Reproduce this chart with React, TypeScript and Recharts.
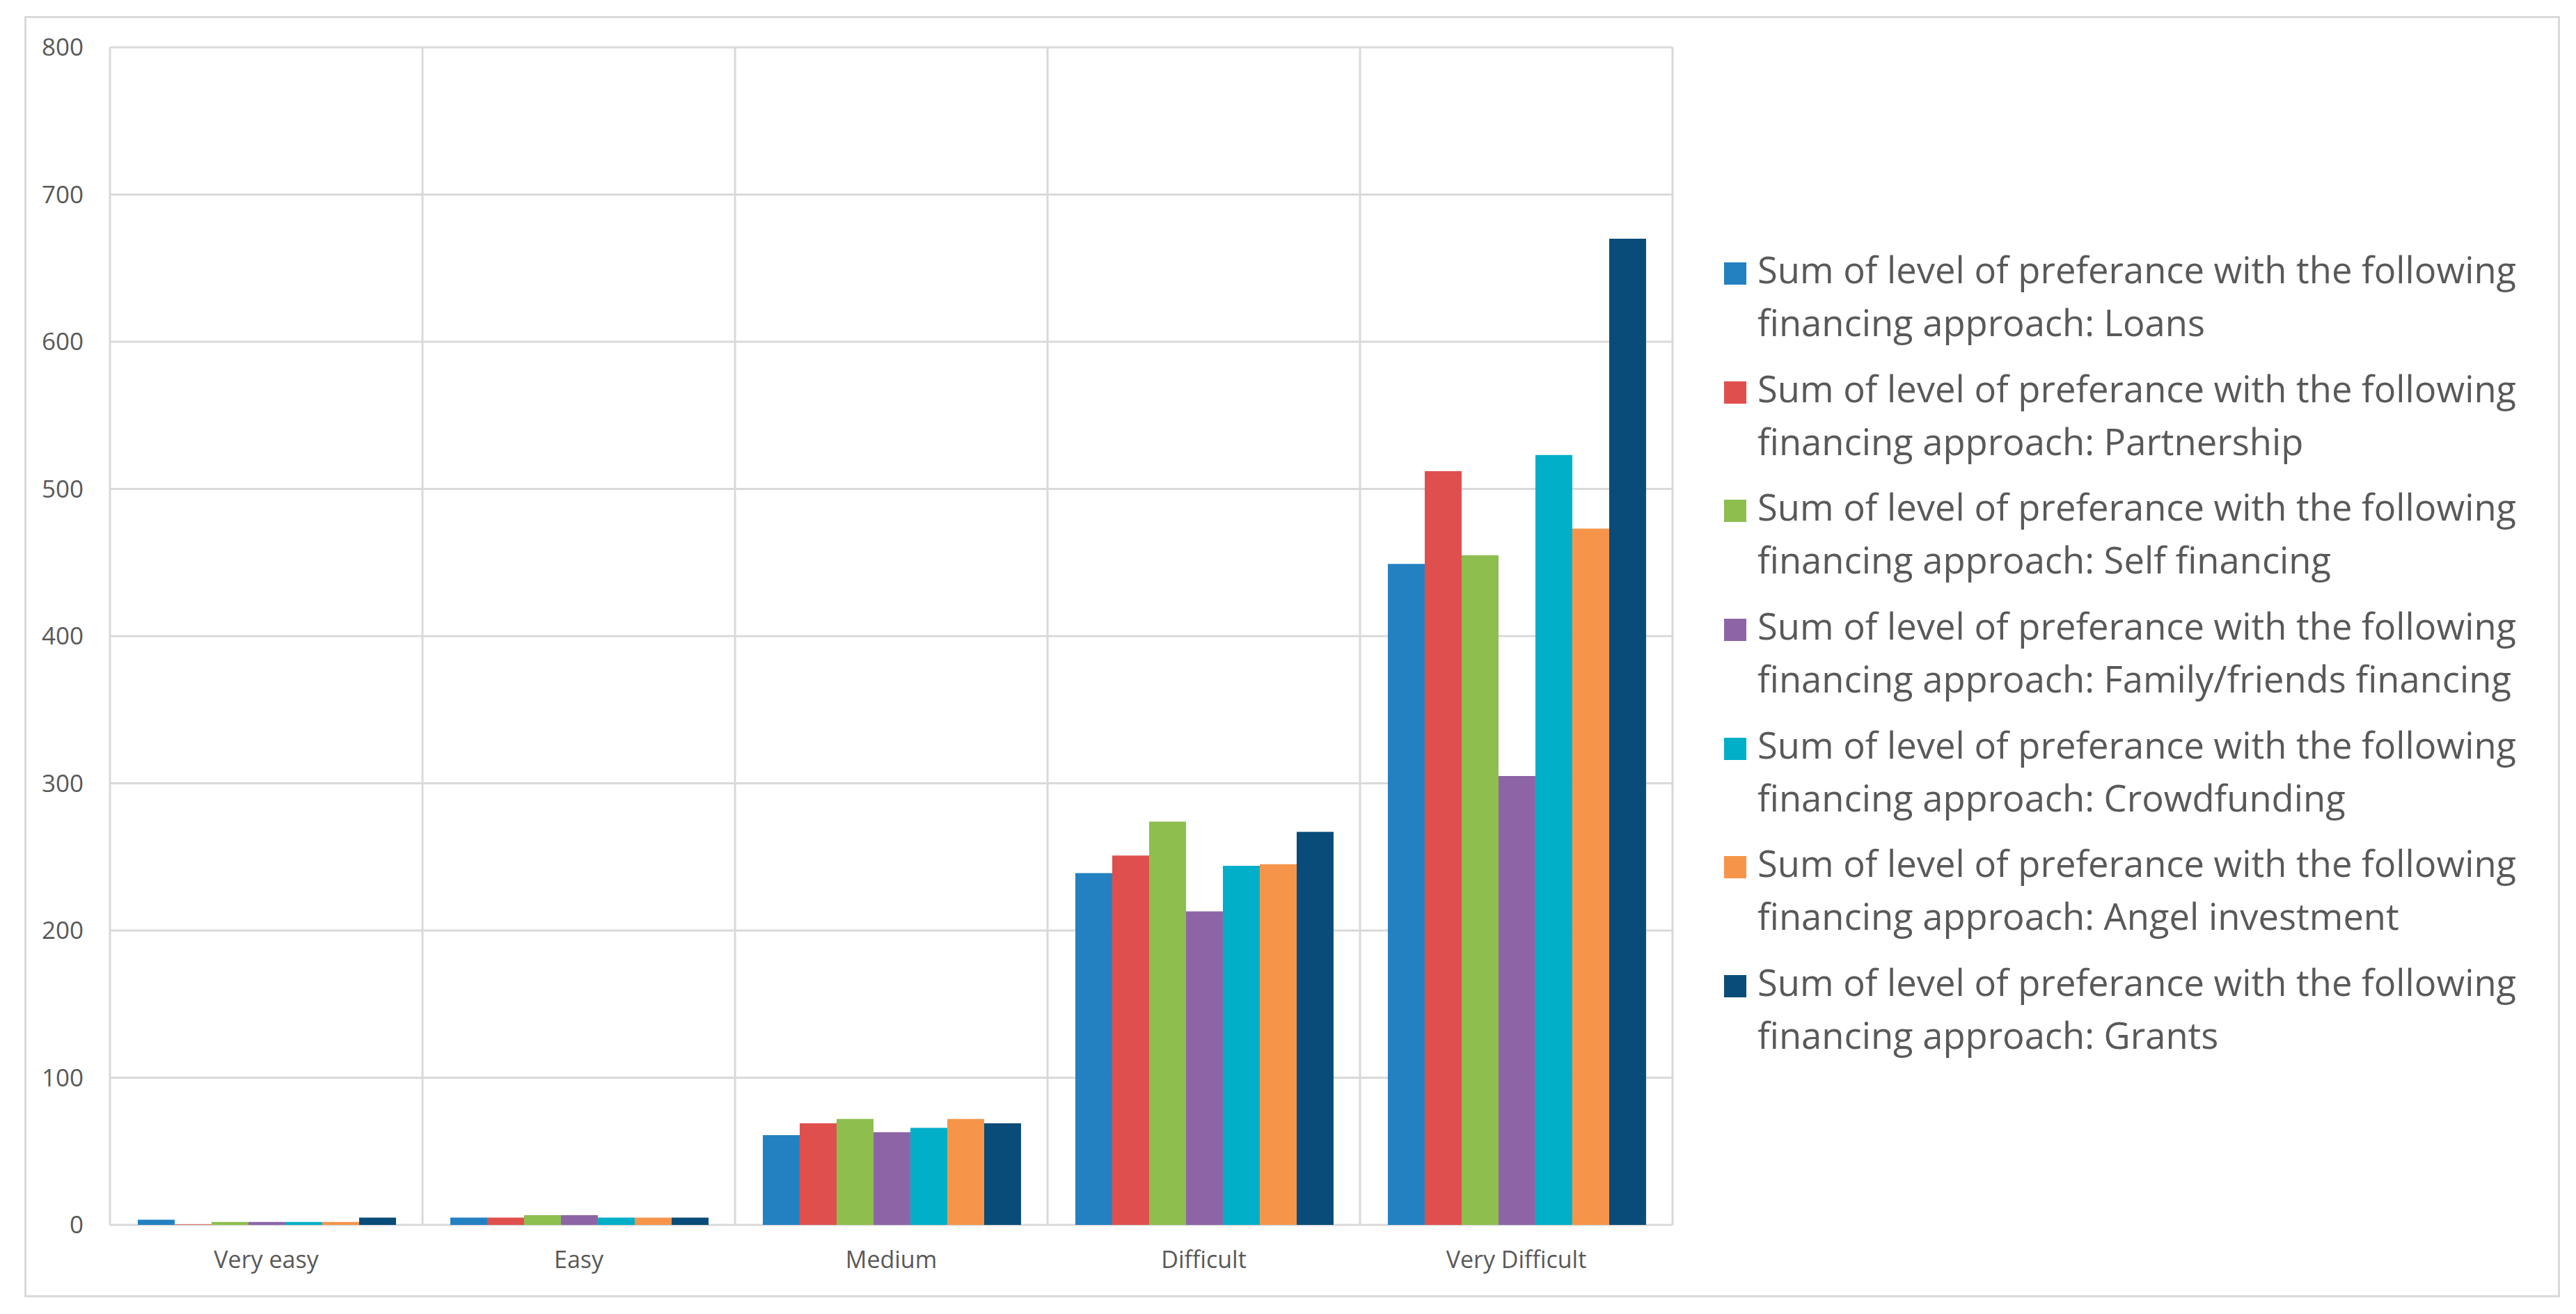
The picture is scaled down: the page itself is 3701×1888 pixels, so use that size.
import React from 'react';
import { BarChart, Bar, XAxis, YAxis, CartesianGrid, Legend } from 'recharts';

const categories = ['Very easy', 'Easy', 'Medium', 'Difficult', 'Very Difficult'];
const loans = [3.5, 5, 61, 239, 449];
const partnership = [0.3, 5, 69, 251, 512];
const selfFinancing = [2, 6.6, 72, 274, 455];
const familyFriends = [2, 6.6, 63, 213, 305];
const crowdfunding = [2, 5, 66, 244, 523];
const angelInvestment = [2, 5, 72, 245, 473];
const grants = [5, 5, 69, 267, 670];
const yTicks = [0, 100, 200, 300, 400, 500, 600, 700, 800];

const legendPrefix = 'Sum of level of preferance with the following';
const seriesNames = [
  'financing approach: Loans',
  'financing approach: Partnership',
  'financing approach: Self financing',
  'financing approach: Family/friends financing',
  'financing approach: Crowdfunding',
  'financing approach: Angel investment',
  'financing approach: Grants',
];
const seriesKeys = ['loans', 'partnership', 'selfFinancing', 'familyFriends', 'crowdfunding', 'angelInvestment', 'grants'];
const seriesValues = [loans, partnership, selfFinancing, familyFriends, crowdfunding, angelInvestment, grants];
const seriesColors = ['#2381C1', '#DF4F4E', '#8DBE4E', '#8D65A7', '#02AFC8', '#F6954A', '#0A4C79'];

const data = categories.map((c, i) => {
  const row: Record<string, any> = { category: c };
  seriesKeys.forEach((k, s) => {
    row[k] = seriesValues[s][i];
  });
  return row;
});

const FONT = '"Open Sans", "Noto Sans", sans-serif';
const GRID = '#d9d9d9';
const TEXT = '#595959';

// vertical grid lines at category boundaries, computed from the plot area
const boundaryLines = (props: any) => {
  const off = props.offset;
  const n = categories.length;
  const xs: number[] = [];
  for (let i = 0; i <= n; i++) xs.push(off.left + (off.width * i) / n);
  return xs;
};

function LegendContent() {
  return (
    <div style={{ fontFamily: FONT, fontSize: 52.5, lineHeight: '76px', color: TEXT, display: 'flex', flexDirection: 'column', gap: 18.7 }}>
      {seriesKeys.map((k, i) => (
        <div key={k} style={{ display: 'flex', alignItems: 'flex-start' }}>
          <div style={{ width: 32, height: 32, background: seriesColors[i], marginTop: 28, marginRight: 16, flex: 'none' }} />
          <div style={{ whiteSpace: 'nowrap' }}>
            {legendPrefix + ' '}
            <br />
            {seriesNames[i]}
          </div>
        </div>
      ))}
    </div>
  );
}

export default function App() {
  return (
    <div style={{ position: 'absolute', left: 0, top: 0, width: 3701, height: 1888, background: '#fff' }}>
      <div
        style={{
          position: 'absolute',
          left: 35,
          top: 23,
          width: 3643,
          height: 1841,
          border: `3px solid ${GRID}`,
          boxSizing: 'border-box',
        }}
      />
      <div style={{ position: 'absolute', left: 0, top: 0 }}>
        <BarChart
          width={3701}
          height={1888}
          data={data}
          margin={{ top: 68, right: 1298, bottom: 28, left: 38 }}
          barCategoryGap="8.9%"
          barGap={0}
        >
          <CartesianGrid stroke={GRID} strokeWidth={3} verticalCoordinatesGenerator={boundaryLines} />
          <XAxis
            dataKey="category"
            axisLine={false}
            tickLine={false}
            tickSize={0}
            tickMargin={38}
            height={100}
            interval={0}
            tick={{ fill: TEXT, fontSize: 34, fontFamily: FONT }}
          />
          <YAxis
            domain={[0, 800]}
            ticks={yTicks}
            width={120}
            axisLine={false}
            tickLine={false}
            tickSize={0}
            tickMargin={38}
            interval={0}
            tick={{ fill: TEXT, fontSize: 35, fontFamily: FONT }}
          />
          {seriesKeys.map((k, i) => (
            <Bar key={k} dataKey={k} name={legendPrefix + ' ' + seriesNames[i]} fill={seriesColors[i]} isAnimationActive={false} />
          ))}
          <Legend
            layout="vertical"
            align="center"
            verticalAlign="middle"
            wrapperStyle={{ left: 2477, top: 349, width: 1200, height: 'auto' }}
            content={() => <LegendContent />}
          />
        </BarChart>
      </div>
    </div>
  );
}
